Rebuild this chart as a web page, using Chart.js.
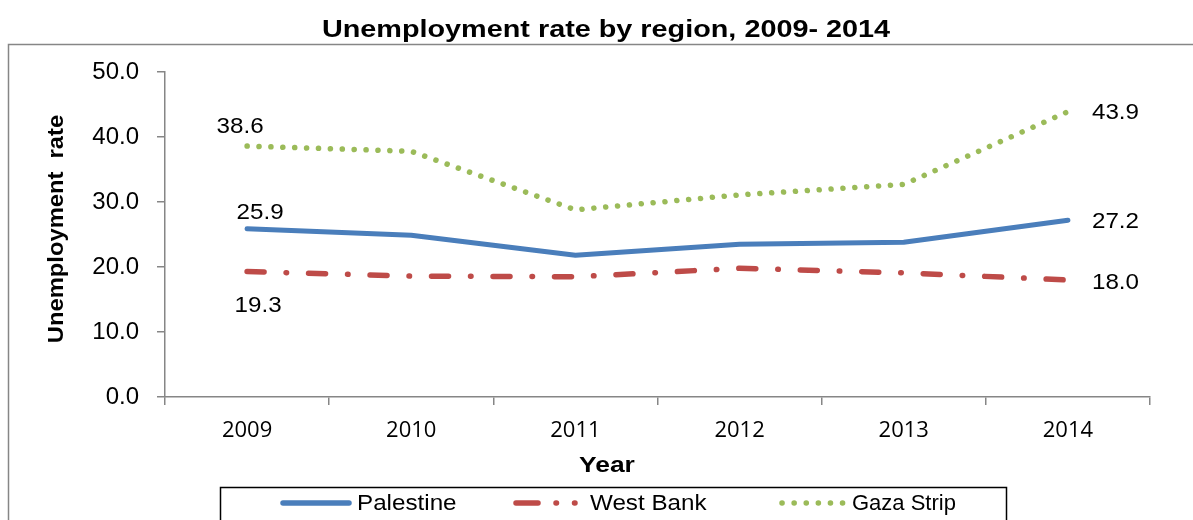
<!DOCTYPE html>
<html>
<head>
<meta charset="utf-8">
<script src="https://cdn.jsdelivr.net/npm/chart.js@4.4.1/dist/chart.umd.min.js"></script>
<style>
  html, body { margin: 0; padding: 0; background: #fff; }
  canvas { display: block; }
</style>
</head>
<body>
<canvas id="unemploymentChart" width="1193" height="520"></canvas>
<script>
// data
const years = ['2009', '2010', '2011', '2012', '2013', '2014'];
const palestine = [25.9, 24.9, 21.8, 23.5, 23.8, 27.2];
const westBank = [19.3, 18.6, 18.5, 19.8, 19.1, 18.0];
const gazaStrip = [38.6, 37.8, 28.8, 31.1, 32.7, 43.9];
const yTicks = [0, 10, 20, 30, 40, 50];

const ARIAL = '"Liberation Sans", Arial, sans-serif';
const BLUE = '#4A7EBB';
const RED = '#BE4B48';
const GREEN = '#9BBB59';
const AXIS = '#868686';

// the source image is a bit wider than tall, so text gets stretched sideways
function stretchText(ctx, text, x, y, align, sx) {
    ctx.save();
    ctx.translate(x, y);
    ctx.scale(sx, 1);
    ctx.textAlign = align;
    ctx.fillText(text, 0, 0);
    ctx.restore();
}

// value labels at the first and last point of each series
const valueLabels = {
    id: 'valueLabels',
    afterDatasetsDraw(chart) {
        const ctx = chart.ctx;
        // [dataset, index, dx, dy, align]
        const spots = [
            [0, 0, 13, -16, 'center'],
            [1, 0, 11, 34, 'center'],
            [2, 0, -7, -19, 'center'],
            [0, 5, 24, 2, 'left'],
            [1, 5, 24, 3, 'left'],
            [2, 5, 24, 1, 'left']
        ];
        ctx.save();
        ctx.font = '22px ' + ARIAL;
        ctx.fillStyle = '#000';
        ctx.textBaseline = 'middle';
        spots.forEach(s => {
            const pt = chart.getDatasetMeta(s[0]).data[s[1]];
            const v = chart.data.datasets[s[0]].data[s[1]];
            stretchText(ctx, v.toFixed(1), pt.x + s[2], pt.y + s[3], s[4], 1.1);
        });
        ctx.restore();
    }
};

// frame, titles and legend box
const decorations = {
    id: 'decorations',
    afterDraw(chart) {
        const ctx = chart.ctx;
        ctx.save();

        // outer frame
        ctx.strokeStyle = AXIS;
        ctx.lineWidth = 1.5;
        ctx.beginPath();
        ctx.moveTo(8.5, 530);
        ctx.lineTo(8.5, 44.5);
        ctx.lineTo(1200, 44.5);
        ctx.stroke();

        // title
        ctx.fillStyle = '#000';
        ctx.textBaseline = 'middle';
        ctx.font = 'bold 24px ' + ARIAL;
        stretchText(ctx, 'Unemployment rate by region, 2009- 2014', 606, 30, 'center', 1.2);

        // axis titles
        ctx.font = 'bold 22px ' + ARIAL;
        stretchText(ctx, 'Year', 607, 466, 'center', 1.2);
        ctx.save();
        ctx.translate(57, 229);
        ctx.rotate(-Math.PI / 2);
        ctx.scale(1.08, 1);
        ctx.textAlign = 'center';
        ctx.fillText('Unemployment  rate', 0, 0);
        ctx.restore();

        // legend
        ctx.strokeStyle = '#000';
        ctx.lineWidth = 1.5;
        ctx.strokeRect(220.5, 487.5, 786, 60);

        const ly = 503;
        ctx.lineCap = 'round';
        ctx.lineWidth = 5.5;

        ctx.strokeStyle = BLUE;
        ctx.setLineDash([]);
        ctx.beginPath();
        ctx.moveTo(283, ly);
        ctx.lineTo(349, ly);
        ctx.stroke();

        ctx.strokeStyle = RED;
        ctx.setLineDash([22, 18, 0.5, 18, 0.5, 30]);
        ctx.beginPath();
        ctx.moveTo(516, ly);
        ctx.lineTo(582, ly);
        ctx.stroke();

        ctx.strokeStyle = GREEN;
        ctx.lineWidth = 5.5;
        ctx.setLineDash([0.1, 12]);
        ctx.beginPath();
        ctx.moveTo(782, ly);
        ctx.lineTo(843, ly);
        ctx.stroke();
        ctx.setLineDash([]);

        ctx.fillStyle = '#000';
        ctx.font = '22px ' + ARIAL;
        stretchText(ctx, 'Palestine', 357, ly + 1, 'left', 1.1);
        stretchText(ctx, 'West Bank', 590, ly + 1, 'left', 1.1);
        stretchText(ctx, 'Gaza Strip', 852, ly + 1, 'left', 1.0);

        ctx.restore();
    }
};

new Chart(document.getElementById('unemploymentChart'), {
    type: 'line',
    data: {
        labels: years,
        datasets: [{
            label: 'Palestine',
            data: palestine,
            borderColor: BLUE,
            borderWidth: 5,
            borderJoinStyle: 'round',
            borderCapStyle: 'round'
        }, {
            label: 'West Bank',
            data: westBank,
            borderColor: RED,
            borderWidth: 5.5,
            borderDash: [17, 22, 0.5, 22],
            borderCapStyle: 'round'
        }, {
            label: 'Gaza Strip',
            data: gazaStrip,
            borderColor: GREEN,
            borderWidth: 5.5,
            borderDash: [0.1, 11.8],
            borderCapStyle: 'round'
        }]
    },
    options: {
        responsive: false,
        animation: false,
        layout: { padding: { left: 0, top: 72, right: 43, bottom: 0 } },
        elements: { point: { radius: 0, hoverRadius: 0 }, line: { tension: 0, fill: false } },
        plugins: {
            legend: { display: false },
            title: { display: false },
            tooltip: { enabled: false }
        },
        scales: {
            x: {
                offset: true,
                grid: { display: true, drawOnChartArea: false, offset: true, tickLength: 8, color: AXIS, lineWidth: 1.5 },
                border: { color: AXIS, width: 1.5 },
                ticks: { color: '#000', padding: 13, font: { family: '"Open Sans", sans-serif', size: 22 }, maxRotation: 0 },
                afterFit(scale) { scale.height = 123; }
            },
            y: {
                min: 0,
                max: 50,
                afterBuildTicks(scale) { scale.ticks = yTicks.map(v => ({ value: v })); },
                grid: { display: true, drawOnChartArea: false, tickLength: 8, color: AXIS, lineWidth: 1.5 },
                border: { color: AXIS, width: 1.5 },
                ticks: {
                    color: '#000',
                    padding: 18,
                    font: { family: ARIAL, size: 24 },
                    callback: v => v.toFixed(1)
                },
                afterFit(scale) { scale.width = 165; }
            }
        }
    },
    plugins: [valueLabels, decorations]
});
</script>
</body>
</html>
